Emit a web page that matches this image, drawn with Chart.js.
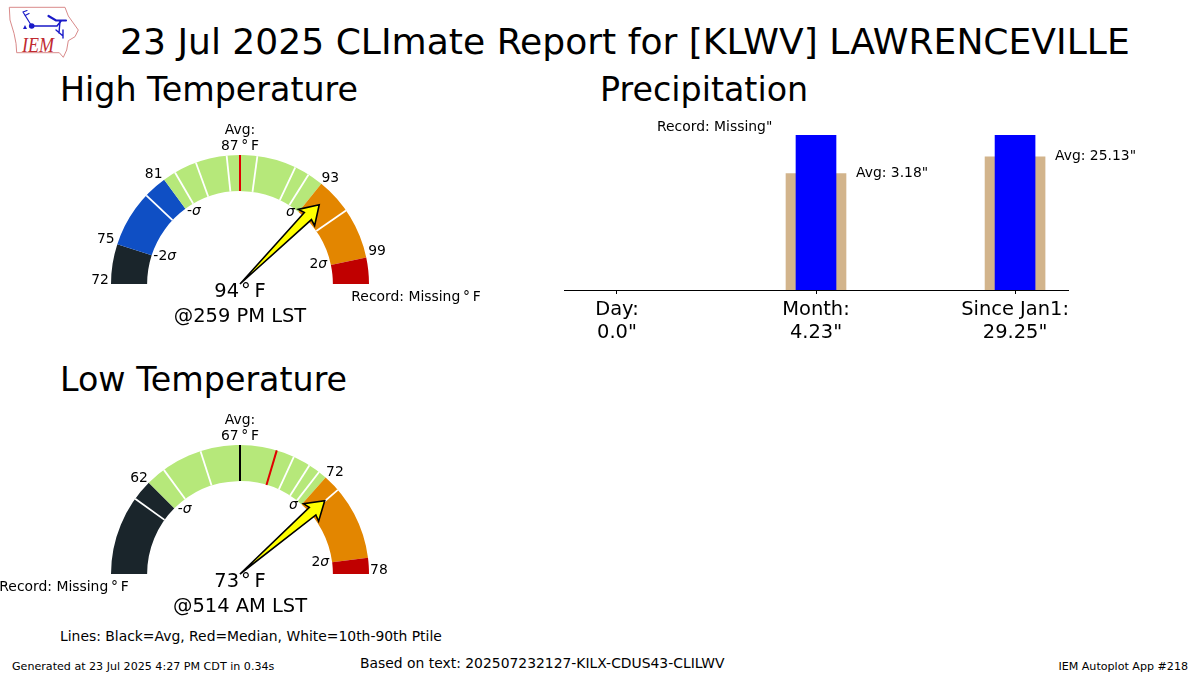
<!DOCTYPE html>
<html>
<head>
<meta charset="utf-8">
<script src="https://cdn.jsdelivr.net/npm/chart.js@4"></script>
<style>
  html, body { margin: 0; padding: 0; background: #fff; }
  body { width: 1200px; height: 675px; position: relative; overflow: hidden; font-family: "DejaVu Sans", sans-serif; color: #000; }
  canvas { position: absolute; }
  .txt { position: absolute; white-space: nowrap; line-height: 1; }
  #logo { position: absolute; left: 0; top: 0; }
</style>
</head>
<body>

<svg id="logo" width="90" height="62" viewBox="0 0 90 62">
  <path d="M9.3 7.3 L65 7.3 L68.3 16 L78.3 30 L75 36.7 L68.3 40.7 L66.7 50 L63.3 57.3 L59.3 52.7 L16.7 52.7 L16 43.3 L14 33.3 L10 20 Z" fill="none" stroke="#d98a8a" stroke-width="1"/>
  <g stroke="#1a1ac8" fill="none" stroke-linecap="round">
    <path d="M31.7 26 L57 26 L61 21" stroke-width="1.6"/>
    <path d="M31.7 26 L23 12 M23 12 L27 10.5 M25 15.5 L29 13.5" stroke-width="1.2"/>
    <path d="M48.5 16 L56 20.5 L66 20.5" stroke-width="2.2"/>
    <path d="M60 21 L59 33 M56 30 L63 36 M63 30 L63 38" stroke-width="1.4"/>
  </g>
  <circle cx="31.7" cy="26" r="2.8" fill="#1a1ac8"/>
  <path d="M25 25 L27 29 L23 29 Z" fill="#1a1ac8"/>
  <text x="22" y="51.5" font-family="Liberation Serif" font-style="italic" font-size="21" textLength="32" lengthAdjust="spacingAndGlyphs" fill="#c02a30">IEM</text>
</svg>

<div class="txt" style="left:120px;top:24px;font-size:36.1px">23 Jul 2025 CLImate Report for [KLWV] LAWRENCEVILLE</div>
<div class="txt" style="left:60px;top:73px;font-size:33.3px">High Temperature</div>
<div class="txt" style="left:600px;top:73px;font-size:33.3px">Precipitation</div>
<div class="txt" style="left:60px;top:363px;font-size:33.3px">Low Temperature</div>

<canvas id="highGauge" width="490" height="220" style="left:0;top:115px;width:490px;height:220px"></canvas>
<canvas id="lowGauge" width="490" height="220" style="left:0;top:405px;width:490px;height:220px"></canvas>
<canvas id="precipChart" width="580" height="240" style="left:560px;top:110px;width:580px;height:240px"></canvas>

<div class="txt" style="left:60px;top:630px;font-size:13.9px">Lines: Black=Avg, Red=Median, White=10th-90th Ptile</div>
<div class="txt" style="left:12px;top:661px;font-size:11.1px">Generated at 23 Jul 2025 4:27 PM CDT in 0.34s</div>
<div class="txt" style="left:360px;top:657px;font-size:13.9px">Based on text: 202507232127-KILX-CDUS43-CLILWV</div>
<div class="txt" style="right:12px;top:661px;font-size:11.1px">IEM Autoplot App #218</div>

<script>
//Gauge data, everything is a fraction of the half circle going left to right
const gaugeColors = ['#1a252b', '#0f4fc4', '#b6e87a', '#e38600', '#c00000'];

//High temperature
const highEdges = [0, 0.1, 0.3, 0.717, 0.934, 1];
const highEdgeTemps = ['72', '75', '81', '93', '99'];
const highWhiteLines = [0.241, 0.332, 0.389, 0.467, 0.543, 0.641, 0.678, 0.807];
const highAvgLine = 0.5;
const highMedianLine = 0.5;
const highArrow = 0.75;
const highObserved = 94;
const highTime = '@259 PM LST';
const highAvg = 87;

//Low temperature, no blue band on this one (the record is missing)
const lowEdges = [0, 0.25, 0.25, 0.731, 0.96, 1];
const lowEdgeTemps = ['62', '72', '78'];
const lowWhiteLines = [0.198, 0.299, 0.401, 0.637, 0.681, 0.71, 0.774];
const lowAvgLine = 0.5;
const lowMedianLine = 0.592;
const lowArrow = 0.773;
const lowObserved = 73;
const lowTime = '@514 AM LST';
const lowAvg = 67;

//Precip
const precipLabels = ['Day:', 'Month:', 'Since Jan1:'];
const precipObserved = [0.0, 4.23, 29.25];
const precipAverage = [null, 3.18, 25.13];

function sliceSizes(edges) {
  return edges.slice(1).map((e, i) => e - edges[i]);
}

//Writes text centered on a point
function centerText(ctx, text, x, y, size, style) {
  ctx.font = (style || '') + ' ' + size + 'px "DejaVu Sans"';
  ctx.textAlign = 'center';
  ctx.textBaseline = 'middle';
  ctx.fillStyle = '#000';
  ctx.fillText(text, x, y);
}

//Upright prefix and an italic sigma, like math text
function sigmaText(ctx, prefix, x, y) {
  ctx.font = '13.9px "DejaVu Sans"';
  const w1 = ctx.measureText(prefix).width;
  ctx.font = 'italic 13.9px "DejaVu Sans"';
  const w2 = ctx.measureText('σ').width;
  ctx.textAlign = 'left';
  ctx.textBaseline = 'middle';
  ctx.fillStyle = '#000';
  const left = x - (w1 + w2) / 2;
  ctx.fillText('σ', left + w1, y);
  if (prefix) {
    ctx.font = '13.9px "DejaVu Sans"';
    ctx.fillText(prefix, left, y);
  }
}

//Lines, labels and the arrow on top of the doughnut
function gaugeExtras(cfg) {
  return {
    id: 'gaugeExtras',
    afterDatasetsDraw(chart) {
      const ctx = chart.ctx;
      const arc = chart.getDatasetMeta(0).data.find(a => a.outerRadius > 0);
      const cx = arc.x, cy = arc.y, outer = arc.outerRadius, inner = arc.innerRadius;
      const pos = (frac, r) => ({
        x: cx - r * Math.cos(frac * Math.PI),
        y: cy - r * Math.sin(frac * Math.PI)
      });

      const spoke = (frac, color, width) => {
        const a = pos(frac, inner), b = pos(frac, outer);
        ctx.beginPath();
        ctx.moveTo(a.x, a.y);
        ctx.lineTo(b.x, b.y);
        ctx.strokeStyle = color;
        ctx.lineWidth = width;
        ctx.stroke();
      };

      cfg.white.forEach(f => spoke(f, '#fff', 1.8));
      spoke(cfg.avg, '#000', 2);
      spoke(cfg.median, '#e00000', 2);

      //Temperature at the color edges
      cfg.labelEdges.forEach((frac, i) => {
        const p = pos(frac, 140);
        const nudge = cfg.labelNudge[i] || [0, 0];
        centerText(ctx, cfg.temps[i], p.x + nudge[0], p.y - 3 + 4 * Math.sin(frac * Math.PI) + nudge[1], 13.9);
      });

      //Sigma labels hug the inside of the ring
      cfg.sigmas.forEach(s => {
        const w = s.text.length * 8;
        const p = pos(s.frac, 91 - (w / 2) * Math.abs(Math.cos(s.frac * Math.PI)));
        sigmaText(ctx, s.text, p.x + s.nudge[0], p.y + 1 + s.nudge[1]);
      });

      centerText(ctx, 'Avg:', cx, cy - 154, 13.9);
      centerText(ctx, cfg.avgTemp + '\u2009°\u2009F', cx, cy - 138, 13.9);
      centerText(ctx, cfg.observed + '\u200a°\u2009F', cx, cy + 8, 19.44);
      centerText(ctx, cfg.time, cx, cy + 33, 19.44);
      centerText(ctx, 'Record: Missing\u2009°\u2009F', cfg.recordX, cy + cfg.recordDy, 13.9);

      //Arrow from the gauge center to the observed value
      const ang = Math.PI - cfg.arrow * Math.PI;
      const len = 112;
      ctx.save();
      ctx.translate(cx, cy);
      ctx.rotate(-ang);
      ctx.beginPath();
      ctx.moveTo(0, 0);
      ctx.lineTo(len - 16, -5);
      ctx.lineTo(len - 18, -11.5);
      ctx.lineTo(len, 0);
      ctx.lineTo(len - 18, 11.5);
      ctx.lineTo(len - 16, 5);
      ctx.closePath();
      ctx.fillStyle = '#ffff00';
      ctx.strokeStyle = '#000';
      ctx.lineWidth = 1.6;
      ctx.lineJoin = 'miter';
      ctx.fill();
      ctx.stroke();
      ctx.restore();
    }
  };
}

function makeGauge(id, edges, cfg) {
  return new Chart(document.getElementById(id), {
    type: 'doughnut',
    data: {
      datasets: [{
        data: sliceSizes(edges),
        backgroundColor: gaugeColors,
        borderWidth: 0
      }]
    },
    options: {
      responsive: false,
      animation: false,
      rotation: -90,
      circumference: 180,
      cutout: '72%',
      layout: { padding: { left: 111, right: 121, top: 40, bottom: 51 } },
      plugins: { legend: { display: false }, tooltip: { enabled: false } }
    },
    plugins: [gaugeExtras(cfg)]
  });
}

makeGauge('highGauge', highEdges, {
  white: highWhiteLines, avg: highAvgLine, median: highMedianLine,
  labelEdges: highEdges.slice(0, 5), temps: highEdgeTemps,
  labelNudge: [[0, -1], [-1, 0], [-4, 3], [2, 3], [0, -2]],
  sigmas: [
    { text: '-2', frac: highEdges[1], nudge: [4, -3] },
    { text: '-', frac: highEdges[2], nudge: [6, -2] },
    { text: '', frac: highEdges[3], nudge: [-7, -2] },
    { text: '2', frac: highEdges[4], nudge: [-7, -3] }
  ],
  avgTemp: highAvg, observed: highObserved, time: highTime, arrow: highArrow,
  recordX: 416, recordDy: 13
});

makeGauge('lowGauge', lowEdges, {
  white: lowWhiteLines, avg: lowAvgLine, median: lowMedianLine,
  labelEdges: lowEdges.slice(2, 5), temps: lowEdgeTemps,
  labelNudge: [[-2, 4], [2, 3], [0, 16]],
  sigmas: [
    { text: '-', frac: lowEdges[2], nudge: [7, -3] },
    { text: '', frac: lowEdges[3], nudge: [-7, -2] },
    { text: '2', frac: lowEdges[4], nudge: [-6, -2] }
  ],
  avgTemp: lowAvg, observed: lowObserved, time: lowTime, arrow: lowArrow,
  recordX: 64, recordDy: 13
});

//Each group is scaled so that the bigger of observed and average fills the height
const groupMax = precipObserved.map((v, i) => Math.max(v, precipAverage[i] || 0) || 1);

const precipNotes = {
  id: 'precipNotes',
  afterDatasetsDraw(chart) {
    const ctx = chart.ctx;
    const x = chart.scales.x, y = chart.scales.y;
    ctx.font = '13.9px "DejaVu Sans"';
    ctx.textAlign = 'left';
    ctx.textBaseline = 'middle';
    ctx.fillStyle = '#000';
    precipAverage.forEach((avg, i) => {
      if (avg === null) return;
      ctx.fillText('Avg: ' + avg + '"', x.getPixelForValue(i) + 40, y.getPixelForValue(avg / groupMax[i]));
    });
    ctx.fillText('Record: Missing"', 97, 17);
  }
};

new Chart(document.getElementById('precipChart'), {
  type: 'bar',
  data: {
    datasets: [
      {
        label: 'Observed',
        data: precipObserved.map((v, i) => ({ x: i, y: v > 0 ? v / groupMax[i] : null })),
        backgroundColor: '#0000ff',
        barThickness: 40,
        order: 1
      },
      {
        label: 'Average',
        data: precipAverage.map((v, i) => ({ x: i, y: v === null ? null : v / groupMax[i] })),
        backgroundColor: '#d2b48c',
        barThickness: 60,
        order: 2
      }
    ]
  },
  options: {
    responsive: false,
    animation: false,
    layout: { padding: { left: 4, right: 72, top: 25, bottom: 0 } },
    datasets: { bar: { grouped: false } },
    plugins: { legend: { display: false }, tooltip: { enabled: false } },
    scales: {
      x: {
        type: 'linear',
        offset: false,
        min: -0.266,
        max: 2.266,
        grid: { display: true, drawOnChartArea: false, drawTicks: true, tickLength: 4, tickColor: '#000', offset: false },
        border: { display: true, color: '#000', width: 1 },
        afterBuildTicks(axis) {
          axis.ticks = precipLabels.map((_, i) => ({ value: i }));
        },
        afterFit(axis) {
          axis.height = 60;
        },
        ticks: {
          autoSkip: false,
          maxRotation: 0,
          padding: 4,
          color: '#000',
          font: { family: 'DejaVu Sans', size: 19.44 },
          callback(value) {
            const i = Math.round(value);
            return [precipLabels[i], precipObserved[i] + (i === 0 ? '.0"' : '"')];
          }
        }
      },
      y: {
        display: false,
        min: 0,
        max: 1
      }
    }
  },
  plugins: [precipNotes]
});
</script>
</body>
</html>
